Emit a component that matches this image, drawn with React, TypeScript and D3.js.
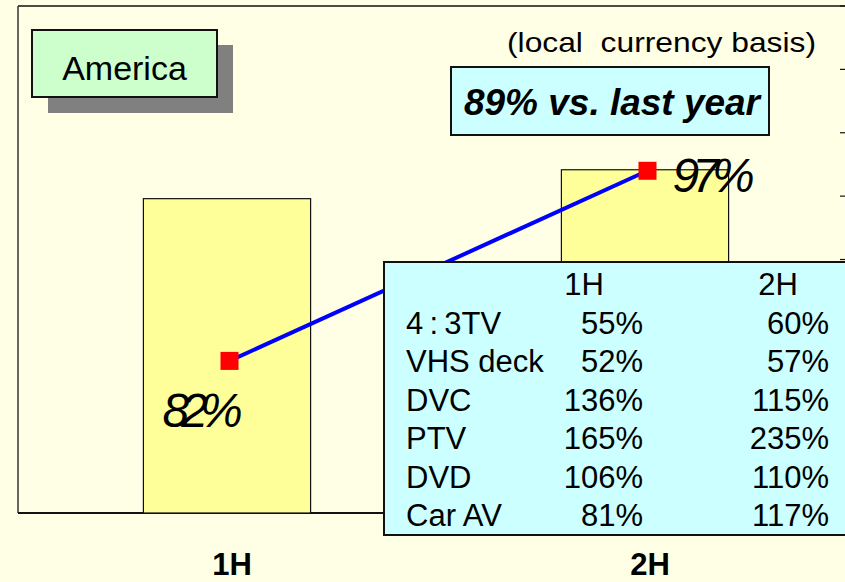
import React from "react";
import * as d3 from "d3";

// halves and values
const periods = ["1H", "2H"];
const salesValues = [620, 677]; // bar heights (left axis, no labels shown)
const yoyValues = [82, 97]; // % vs last year (right axis)
const rightTicks = [75, 80, 85, 90, 95, 100, 105, 110];

// table
const tableHeader = ["1H", "2H"];
const products = ["4\u2009:\u20093TV", "VHS deck", "DVC", "PTV", "DVD", "Car AV"];
const firstHalf = ["55%", "52%", "136%", "165%", "106%", "81%"];
const secondHalf = ["60%", "57%", "115%", "235%", "110%", "117%"];

const W = 845;
const H = 582;
const FONT = "'Liberation Sans', Arial, sans-serif";

export default function App() {
  const margin = { top: 6, left: 18, bottom: 513 };

  const x = d3.scaleBand<string>()
    .domain(periods)
    .range([margin.left, 854])
    .paddingInner(0.6)
    .paddingOuter(0.3);

  const yLeft = d3.scaleLinear().domain([0, 1000]).range([margin.bottom, margin.top]);
  const yRight = d3.scaleLinear().domain([70, 110]).range([margin.bottom, margin.top]);

  const linePts: [number, number][] = periods.map((p, i) => [
    (x(p) as number) + x.bandwidth() / 2 + 2.5,
    yRight(yoyValues[i]),
  ]);
  const line = d3.line();

  const rowY = d3.scaleLinear().domain([0, 1]).range([295, 333.5]);

  return (
    <svg width={W} height={H} style={{ display: "block", position: "absolute", left: 0, top: 0 }}>
      <style>{`body{margin:0}`}</style>
      <rect x={0} y={0} width={W} height={H} fill="#FFFFE6" />

      {/* plot frame */}
      <line x1={margin.left} y1={margin.top} x2={W} y2={margin.top} stroke="#111" strokeWidth={1.5} />
      <line x1={margin.left} y1={margin.top} x2={margin.left} y2={margin.bottom} stroke="#333" strokeWidth={1.5} />
      <line x1={margin.left} y1={margin.bottom} x2={W} y2={margin.bottom} stroke="#111" strokeWidth={2} />

      {/* right axis ticks */}
      {rightTicks.map((t) => (
        <line key={t} x1={840} x2={846} y1={yRight(t)} y2={yRight(t)} stroke="#111" strokeWidth={1.2} />
      ))}

      {/* bars */}
      {periods.map((p, i) => (
        <rect
          key={p}
          x={x(p)}
          y={yLeft(salesValues[i])}
          width={x.bandwidth()}
          height={margin.bottom - yLeft(salesValues[i])}
          fill="#FFFF99"
          stroke="#111"
          strokeWidth={1.2}
        />
      ))}

      {/* line */}
      <path d={line(linePts) || ""} fill="none" stroke="#0000FF" strokeWidth={4} />
      {linePts.map(([cx, cy], i) => (
        <rect key={i} x={cx - 9} y={cy - 9} width={18} height={18} fill="#FF0000" />
      ))}
      <text x={linePts[0][0] - 67} y={linePts[0][1] + 66} fontFamily={FONT} fontStyle="italic" fontSize={48} letterSpacing={-8}>
        {yoyValues[0]}%
      </text>
      <text x={linePts[1][0] + 25} y={linePts[1][1] + 21} fontFamily={FONT} fontStyle="italic" fontSize={48} letterSpacing={-7}>
        {yoyValues[1]}%
      </text>

      {/* category labels */}
      {periods.map((p) => (
        <text
          key={p}
          x={(x(p) as number) + x.bandwidth() / 2 + 5}
          y={575}
          textAnchor="middle"
          fontFamily={FONT}
          fontWeight="bold"
          fontSize={31}
        >
          {p}
        </text>
      ))}

      {/* table */}
      <rect x={384} y={262} width={470} height={273} fill="#CCFFFF" stroke="#111" strokeWidth={2} />
      <text x={584} y={rowY(0)} textAnchor="middle" fontFamily={FONT} fontSize={31}>{tableHeader[0]}</text>
      <text x={778} y={rowY(0)} textAnchor="middle" fontFamily={FONT} fontSize={31}>{tableHeader[1]}</text>
      {products.map((name, i) => (
        <g key={name} fontFamily={FONT} fontSize={31}>
          <text x={406} y={rowY(i + 1)}>{name}</text>
          <text x={643} y={rowY(i + 1)} textAnchor="end">{firstHalf[i]}</text>
          <text x={829} y={rowY(i + 1)} textAnchor="end">{secondHalf[i]}</text>
        </g>
      ))}

      {/* region box */}
      <rect x={48} y={45} width={185} height={68} fill="#808080" />
      <rect x={32} y={30} width={185} height={67} fill="#CCFFCC" stroke="#111" strokeWidth={2} />
      <text x={124.5} y={80} textAnchor="middle" fontFamily={FONT} fontSize={34}>America</text>

      {/* notes */}
      <text x={507} y={52} fontFamily={FONT} fontSize={28} textLength={309} lengthAdjust="spacingAndGlyphs" style={{ whiteSpace: "pre" }}>
        {"(local  currency basis)"}
      </text>
      <rect x={451} y={67} width={318} height={68} fill="#CCFFFF" stroke="#111" strokeWidth={2} />
      <text x={464} y={115} fontFamily={FONT} fontSize={37} fontWeight="bold" fontStyle="italic" textLength={296} lengthAdjust="spacingAndGlyphs">
        89% vs. last year
      </text>
    </svg>
  );
}
